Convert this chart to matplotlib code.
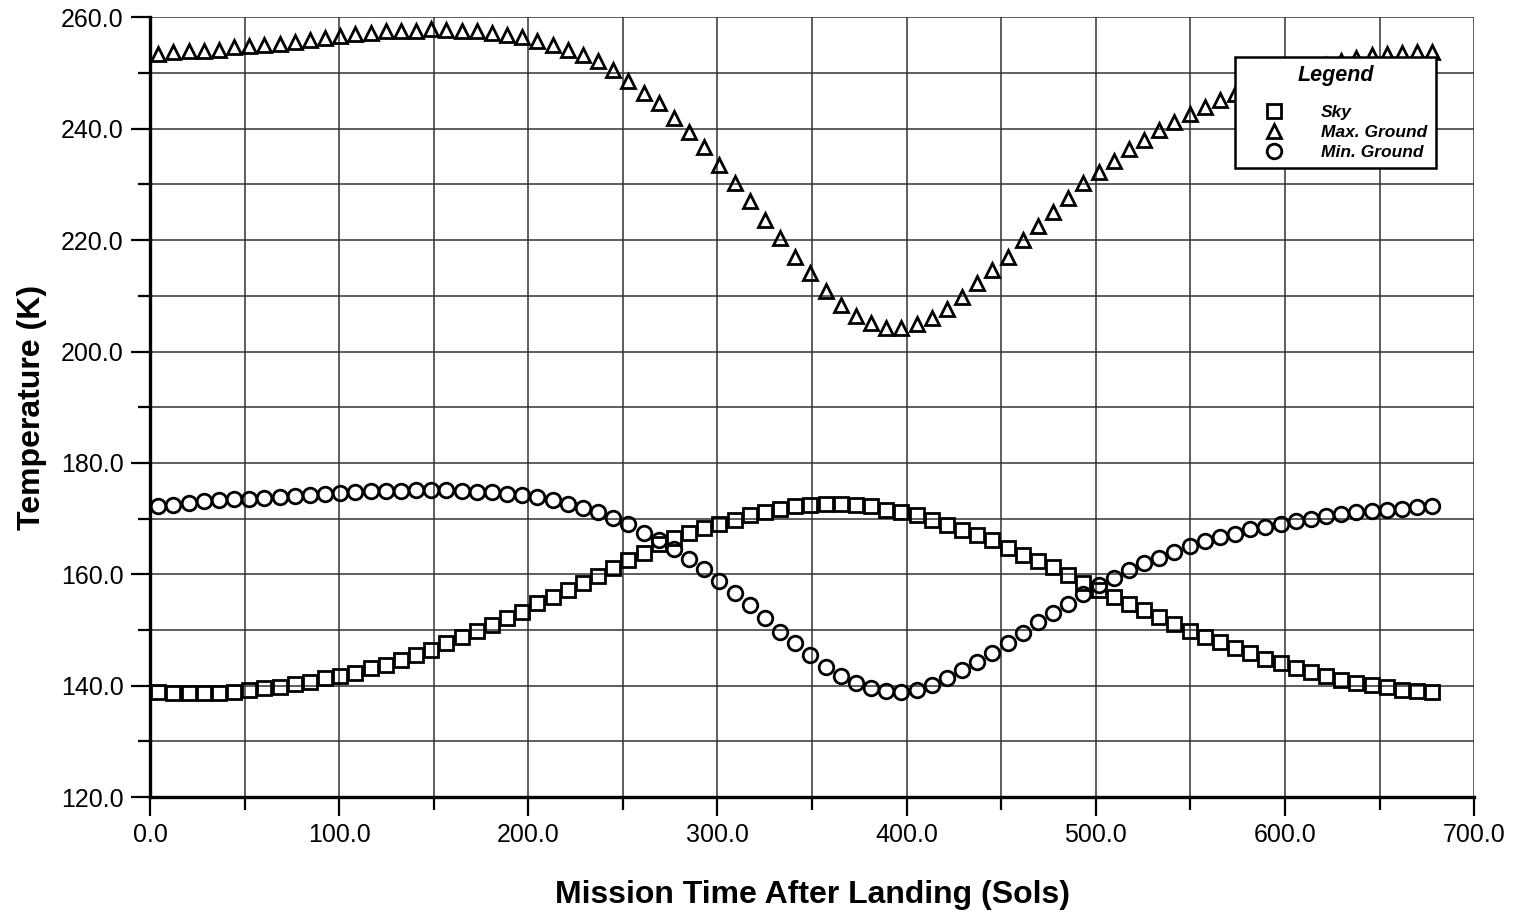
import matplotlib
matplotlib.use("Agg")
import matplotlib.pyplot as plt
import numpy as np

plt.rcParams["font.family"] = ["Liberation Sans", "DejaVu Sans"]

# sample times (sols) - evenly spaced output from the model, one marker every ~8 sols
sols = np.linspace(4.4, 677.9, 85)

sky = [
    138.9, 138.7, 138.7, 138.7, 138.7, 138.9, 139.2, 139.5, 139.8, 140.3,
    140.7, 141.3, 141.7, 142.3, 143.1, 143.7, 144.6, 145.5, 146.4, 147.7,
    148.8, 149.8, 150.9, 152.1, 153.3, 154.8, 156.0, 157.2, 158.5, 159.7,
    161.1, 162.6, 163.8, 165.4, 166.6, 167.5, 168.3, 169.1, 169.8, 170.6,
    171.2, 171.8, 172.2, 172.5, 172.7, 172.7, 172.5, 172.2, 171.6, 171.2,
    170.6, 169.8, 168.8, 167.9, 167.0, 166.1, 164.8, 163.4, 162.4, 161.3,
    159.9, 158.4, 157.2, 155.9, 154.7, 153.5, 152.3, 151.0, 149.8, 148.8,
    147.9, 146.7, 145.8, 144.7, 144.0, 143.1, 142.5, 141.7, 141.1, 140.5,
    140.1, 139.7, 139.3, 139.1, 138.9,
]

max_ground = [
    253.5, 253.7, 253.9, 254.0, 254.2, 254.6, 254.9, 255.1, 255.3, 255.6,
    256.0, 256.3, 256.7, 257.0, 257.2, 257.5, 257.6, 257.6, 257.9, 257.8,
    257.6, 257.5, 257.2, 256.9, 256.5, 255.7, 255.1, 254.2, 253.2, 252.1,
    250.6, 248.5, 246.5, 244.6, 241.9, 239.4, 236.7, 233.4, 230.2, 227.0,
    223.6, 220.3, 216.9, 214.1, 210.8, 208.3, 206.3, 205.1, 204.3, 204.3,
    204.9, 206.0, 207.6, 209.8, 212.3, 214.6, 217.0, 220.0, 222.5, 225.1,
    227.5, 230.2, 232.2, 234.2, 236.4, 237.9, 239.7, 241.2, 242.6, 243.9,
    245.2, 246.3, 247.3, 248.3, 249.2, 250.0, 250.8, 251.5, 252.1, 252.7,
    253.2, 253.4, 253.6, 253.8, 253.8,
]

min_ground = [
    172.2, 172.5, 172.8, 173.1, 173.3, 173.5, 173.6, 173.7, 173.9, 174.0,
    174.3, 174.5, 174.6, 174.8, 174.9, 175.0, 175.0, 175.1, 175.1, 175.1,
    175.0, 174.8, 174.7, 174.5, 174.2, 173.8, 173.3, 172.7, 171.9, 171.1,
    170.1, 169.0, 167.5, 166.1, 164.5, 162.8, 161.0, 158.8, 156.6, 154.5,
    152.2, 149.7, 147.7, 145.5, 143.4, 141.8, 140.4, 139.5, 139.1, 138.9,
    139.3, 140.1, 141.3, 142.8, 144.3, 145.9, 147.7, 149.5, 151.4, 153.0,
    154.7, 156.4, 158.0, 159.4, 160.7, 162.1, 163.0, 164.0, 165.1, 166.0,
    166.7, 167.3, 168.1, 168.5, 169.1, 169.6, 170.0, 170.4, 170.8, 171.1,
    171.4, 171.6, 171.8, 172.1, 172.3,
]

fig = plt.figure(figsize=(15.15, 9.13), dpi=100)
ax = fig.add_axes([0.099, 0.127, 0.874, 0.854])

mk = dict(linestyle="none", color="black", mfc="none", mew=2.0)
ax.plot(sols, sky, marker="s", ms=10, label="Sky", **mk)
ax.plot(sols, max_ground, marker="^", ms=10.5, label="Max. Ground", **mk)
ax.plot(sols, min_ground, marker="o", ms=10.5, label="Min. Ground", **mk)

ax.set_xlim(0, 700)
ax.set_ylim(120, 260)
ax.set_xticks(np.arange(0, 701, 100))
ax.set_xticks(np.arange(50, 700, 100), minor=True)
ax.set_yticks(np.arange(120, 261, 20))
ax.set_yticks(np.arange(130, 260, 20), minor=True)
ax.xaxis.set_major_formatter(matplotlib.ticker.FormatStrFormatter("%.1f"))
ax.yaxis.set_major_formatter(matplotlib.ticker.FormatStrFormatter("%.1f"))

ax.grid(which="both", color="#333333", lw=1.1)
ax.set_axisbelow(True)
ax.tick_params(which="major", direction="out", length=14, width=1.6,
               labelsize=18, pad=5)
ax.tick_params(which="minor", direction="out", length=9, width=1.6)

for s in ["top", "right"]:
    ax.spines[s].set_visible(False)
for s in ["left", "bottom"]:
    ax.spines[s].set_linewidth(2.4)

ax.set_xlabel("Mission Time After Landing (Sols)", fontsize=23, fontweight="bold")
ax.set_ylabel("Temperature (K)", fontsize=23, fontweight="bold")
ax.xaxis.set_label_coords(0.5, -0.106)
ax.yaxis.set_label_coords(-0.078, 0.5)

leg = ax.legend(loc="upper left", bbox_to_anchor=(1235 / 1515, 1 - 56.7 / 913),
                bbox_transform=fig.transFigure, borderaxespad=0,
                title="Legend", numpoints=1, fancybox=False, framealpha=1,
                edgecolor="black", handlelength=3.5, handletextpad=0.95,
                borderpad=0.5, labelspacing=0.28,
                prop=dict(size=12.5, weight="bold", style="italic"),
                title_fontproperties=dict(size=15.5, weight="bold", style="italic"))
leg.get_frame().set_linewidth(1.8)
leg._legend_box.sep = 13

fig.savefig("out.png", dpi=100)
